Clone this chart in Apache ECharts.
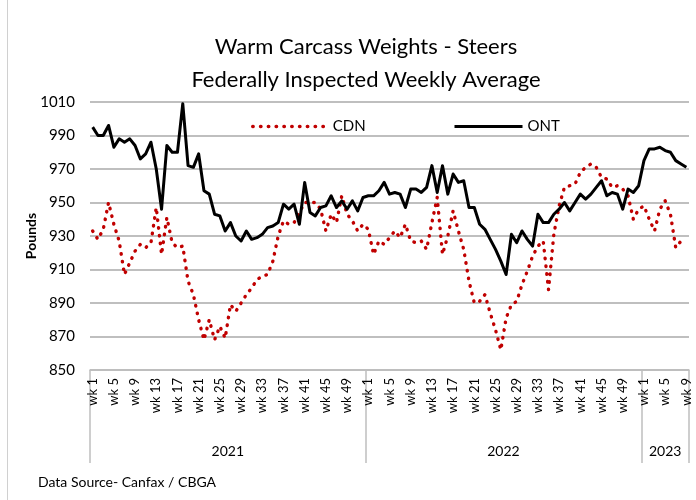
<!DOCTYPE html>
<html>
<head>
<meta charset="utf-8">
<script src="https://cdn.jsdelivr.net/npm/echarts@6/dist/echarts.min.js"></script>
<style>html,body{margin:0;padding:0;background:#fff;}#c{width:696px;height:500px;}</style>
</head>
<body>
<div id="c"></div>
<script>
// ---- data ----
const years = ['2021', '2022', '2023'];
const weeksPerYear = [52, 52, 9];
const cdn2021 = [933,928,934,950,937,927,907,914,921,925,
                 923,926,947,919,941,926,923,924,903,895,
                 880,868,880,868,876,869,889,885,890,895,
                 899,904,906,907,915,930,939,937,938,944,
                 950,950,950,946,933,943,938,954,943,939,
                 933,937];
const cdn2022 = [934,919,927,925,929,933,929,937,927,926,
                 927,922,938,953,919,930,945,933,922,903,
                 890,891,895,884,874,862,881,889,891,901,
                 909,918,924,927,898,931,948,959,960,961,
                 968,971,973,971,965,964,959,960,958,954,
                 940,946];
const cdn2023 = [948,940,933,946,951,943,923,927,null];
const ont2021 = [995,990,990,996,983,988,986,988,984,976,
                 979,986,970,946,984,980,980,1009,972,971,
                 979,957,955,943,942,933,938,930,927,933,
                 928,929,931,935,936,938,949,946,949,937,
                 962,944,942,947,948,954,947,951,946,951,
                 945,953];
const ont2022 = [954,954,957,962,955,956,955,947,958,958,
                 956,959,972,956,972,955,967,962,963,947,
                 947,937,934,928,922,915,907,931,926,933,
                 928,924,943,938,938,943,946,950,945,950,
                 955,952,955,959,963,954,956,955,946,958,
                 956,960];
const ont2023 = [975,982,982,983,981,980,975,973,971];
const yTicks = {min: 850, max: 1010, interval: 20};

// ---- build ----
const categories = [];
weeksPerYear.forEach(n => { for (let w = 1; w <= n; w++) categories.push('wk ' + w); });
const cdn = cdn2021.concat(cdn2022, cdn2023);
const ont = ont2021.concat(ont2022, ont2023);
const total = categories.length;
const yearBounds = [0];
weeksPerYear.forEach((n, i) => yearBounds.push(yearBounds[i] + n));
const yearMids = weeksPerYear.map((n, i) => yearBounds[i] + n / 2);

const FONT = 'Lato';
const chart = echarts.init(document.getElementById('c'), null, {renderer: 'canvas'});
const dotted = {color: '#c00000', width: 3.4, type: [0.5, 7.3], cap: 'round', join: 'round'};
chart.setOption({
  animation: false,
  textStyle: {fontFamily: FONT, color: '#000'},
  title: [
    {text: 'Warm Carcass Weights - Steers\nFederally Inspected Weekly Average', left: 361, top: 25, textAlign: 'center',
     textStyle: {fontFamily: FONT, fontSize: 22, fontWeight: 'normal', lineHeight: 33, color: '#000'}},
    {text: 'Data Source- Canfax / CBGA', left: 33, top: 470,
     textStyle: {fontFamily: FONT, fontSize: 14, fontWeight: 'normal', color: '#000'}}
  ],
  legend: [
    {data: ['CDN'], left: 246, top: 114, itemWidth: 75, itemHeight: 14, itemGap: 0,
     itemStyle: {opacity: 0},
     textStyle: {fontFamily: FONT, fontSize: 15, color: '#000'}, lineStyle: dotted},
    {data: ['ONT'], left: 448, top: 114, itemWidth: 68, itemHeight: 14, itemGap: 0,
     itemStyle: {opacity: 0},
     textStyle: {fontFamily: FONT, fontSize: 15, color: '#000'}, lineStyle: {color: '#000', width: 3}}
  ],
  grid: {left: 90, right: 7, top: 102, bottom: 130},
  xAxis: [
    {type: 'category', data: categories, boundaryGap: true,
     axisLine: {lineStyle: {color: '#bfbfbf', width: 1.5}},
     axisTick: {show: false},
     axisLabel: {interval: 3, rotate: 90, fontSize: 13, margin: 8, color: '#000', fontFamily: FONT}},
    {type: 'value', min: 0, max: total, position: 'bottom',
     axisLine: {show: false}, splitLine: {show: false},
     axisTick: {show: true, customValues: yearBounds, length: 93, lineStyle: {color: '#bfbfbf', width: 1.5}},
     axisLabel: {customValues: yearMids, margin: 74, fontSize: 14, color: '#000', fontFamily: FONT,
       formatter: v => { const k = yearMids.findIndex(m => Math.abs(m - v) < 0.01); return k >= 0 ? years[k] : ''; }}}
  ],
  yAxis: {type: 'value', min: yTicks.min, max: yTicks.max, interval: yTicks.interval,
    name: 'Pounds', nameLocation: 'middle', nameRotate: 90, nameGap: 52, nameMoveOverlap: false,
    nameTextStyle: {fontFamily: FONT, fontSize: 14, fontWeight: 'bold', color: '#000'},
    axisLine: {show: false}, axisTick: {show: false},
    axisLabel: {fontSize: 15, margin: 15, color: '#000', fontFamily: FONT, formatter: v => String(v)},
    splitLine: {lineStyle: {color: '#bfbfbf', width: 2}}},
  graphic: [{type: 'line', shape: {x1: 7.5, y1: 0, x2: 7.5, y2: 500}, style: {stroke: '#d0d0d0', lineWidth: 1}}],
  series: [
    {name: 'CDN', type: 'line', data: cdn, xAxisIndex: 0, symbol: 'none', lineStyle: dotted, itemStyle: {color: '#c00000'}, z: 3},
    {name: 'ONT', type: 'line', data: ont, xAxisIndex: 0, symbol: 'none', lineStyle: {color: '#000', width: 3, join: 'round'}, itemStyle: {color: '#000'}, z: 4}
  ]
});
</script>
</body>
</html>
